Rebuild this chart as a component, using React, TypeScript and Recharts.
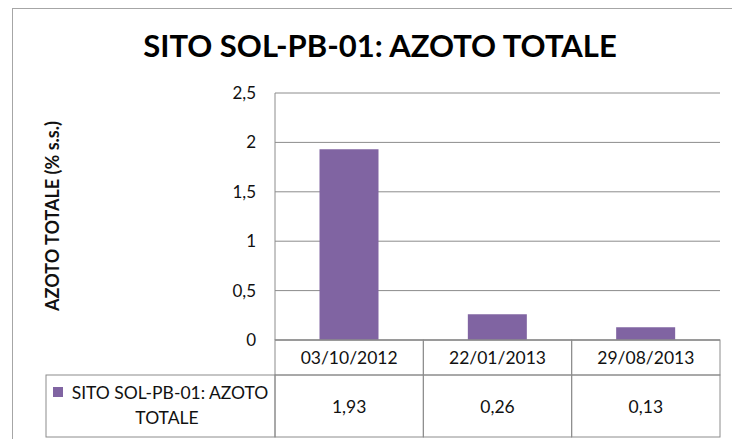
import { BarChart, Bar, XAxis, YAxis, CartesianGrid } from "recharts"

const title = "SITO SOL-PB-01: AZOTO TOTALE"
const seriesName = "SITO SOL-PB-01: AZOTO TOTALE"
const yLabel = "AZOTO TOTALE (% s.s.)"

const dates = ["03/10/2012", "22/01/2013", "29/08/2013"]
const azoto = [1.93, 0.26, 0.13]
const yTicks = [0, 0.5, 1, 1.5, 2, 2.5]

const data = dates.map((d, i) => ({ date: d, azoto: azoto[i] }))

// layout
const W = 732
const H = 439
const PLOT_LEFT = 275
const PLOT_TOP = 93
const PLOT_RIGHT = 720
const PLOT_BOTTOM = 340
const HEAD_H = 35
const TABLE_BOTTOM = 437
const LEGEND_LEFT = 46

const FONT = "Lato, 'Open Sans', sans-serif"
const BAR = "#8064A2"
const LINE = "#8c8c8c"
const TEXT = "#111"

const comma = (v: number) => String(v).replace(".", ",")

function TableTick(props: any) {
  const { x, payload, index } = props
  const cw = (PLOT_RIGHT - PLOT_LEFT) / dates.length
  const left = x - cw / 2
  const rowTop = PLOT_BOTTOM + HEAD_H
  const rowH = TABLE_BOTTOM - rowTop
  return (
    <g fontFamily={FONT} fill={TEXT}>
      <rect x={left} y={PLOT_BOTTOM} width={cw} height={HEAD_H} fill="none" stroke={LINE} />
      <rect x={left} y={rowTop} width={cw} height={rowH} fill="none" stroke={LINE} />
      <text x={x} y={PLOT_BOTTOM + HEAD_H / 2} textAnchor="middle" dominantBaseline="central" fontSize={17.5}>
        {payload.value}
      </text>
      <text x={x} y={rowTop + rowH / 2} textAnchor="middle" dominantBaseline="central" fontSize={17.5}>
        {comma(azoto[index])}
      </text>
      {index === 0 && (
        <g>
          <rect x={LEGEND_LEFT} y={rowTop} width={left - LEGEND_LEFT} height={rowH} fill="none" stroke={LINE} />
          <rect x={53} y={387} width={10} height={10} fill={BAR} />
          <text x={170} y={392} textAnchor="middle" dominantBaseline="central" fontSize={17.5}>
            {seriesName.replace(" TOTALE", "")}
          </text>
          <text x={167} y={417} textAnchor="middle" dominantBaseline="central" fontSize={17.5}>
            TOTALE
          </text>
        </g>
      )}
    </g>
  )
}

export default function App() {
  return (
    <div style={{ position: "absolute", left: 0, top: 0, width: W, height: H, overflow: "hidden", background: "#fff" }}>
      <div
        style={{
          position: "absolute",
          left: 12,
          top: 8,
          width: 800,
          height: 500,
          border: "1px solid #a6a6a6",
          boxSizing: "border-box",
        }}
      />
      <div
        style={{
          position: "absolute",
          left: 80,
          width: 600,
          top: 25,
          textAlign: "center",
          fontFamily: FONT,
          fontWeight: 700,
          fontSize: 31,
          lineHeight: "40px",
          color: "#000",
        }}
      >
        {title}
      </div>
      <div style={{ position: "absolute", left: 0, top: 0 }}>
        <BarChart
          width={W}
          height={H}
          data={data}
          margin={{ top: PLOT_TOP, right: W - PLOT_RIGHT, left: 0, bottom: H - TABLE_BOTTOM }}
          barCategoryGap="30%"
        >
          <CartesianGrid vertical={false} stroke={LINE} />
          <XAxis
            dataKey="date"
            height={TABLE_BOTTOM - PLOT_BOTTOM}
            interval={0}
            tickLine={false}
            axisLine={{ stroke: LINE }}
            tick={<TableTick />}
          />
          <YAxis
            width={PLOT_LEFT}
            domain={[0, 2.5]}
            ticks={yTicks}
            tickFormatter={comma}
            tickLine={false}
            tickMargin={13}
            axisLine={{ stroke: LINE }}
            tick={{ fontFamily: FONT, fontSize: 17, fill: TEXT }}
            label={() => (
              <text
                x={52}
                y={216}
                transform="rotate(-90 52 216)"
                textAnchor="middle"
                dominantBaseline="central"
                fontFamily={FONT}
                fontWeight={700}
                fontSize={18}
                fill={TEXT}
              >
                {yLabel}
              </text>
            )}
          />
          <Bar dataKey="azoto" name={seriesName} fill={BAR} isAnimationActive={false} />
        </BarChart>
      </div>
    </div>
  )
}
